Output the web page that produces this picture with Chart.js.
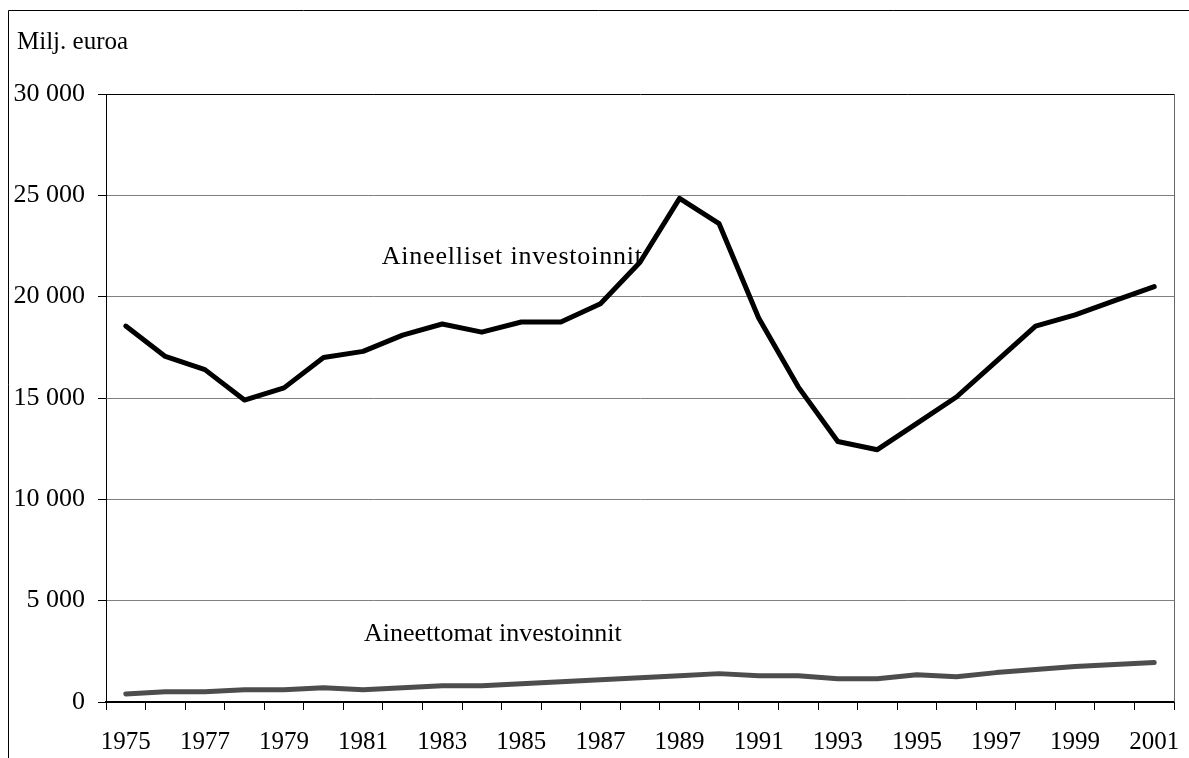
<!DOCTYPE html>
<html><head><meta charset="utf-8">
<script src="https://cdn.jsdelivr.net/npm/chart.js@4"></script>
<style>html,body{margin:0;padding:0;background:#fff;overflow:hidden}</style>
</head><body>
<canvas id="c" width="1189" height="758"></canvas>
<script>
const years = ['1975','1976','1977','1978','1979','1980','1981','1982','1983','1984','1985','1986','1987','1988','1989','1990','1991','1992','1993','1994','1995','1996','1997','1998','1999','2000','2001'];
const tangible = [18550,17050,16400,14900,15500,17000,17300,18100,18650,18250,18750,18750,19650,21700,24850,23600,18950,15550,12850,12450,13750,15050,16800,18550,19100,19800,20500];
const intangible = [400,500,500,600,600,700,600,700,800,800,900,1000,1100,1200,1300,1400,1300,1300,1150,1150,1350,1250,1450,1600,1750,1850,1950];
const yTickValues = [0,5000,10000,15000,20000,25000,30000];
const yTickLabels = ['0','5 000','10 000','15 000','20 000','25 000','30 000'];
const unitLabel = 'Milj. euroa';
const seriesLabels = ['Aineelliset investoinnit','Aineettomat investoinnit'];

const FONT = '"Liberation Serif", "Times New Roman", serif';

const decor = {
  id: 'decor',
  afterDraw(chart) {
    const {ctx, chartArea: a, scales: {x, y}} = chart;
    ctx.save();
    ctx.strokeStyle = '#000'; ctx.lineWidth = 1;
    ctx.beginPath(); ctx.moveTo(8.5, 758); ctx.lineTo(8.5, 10.5); ctx.lineTo(1189, 10.5); ctx.stroke();
    ctx.strokeStyle = '#666';
    ctx.beginPath(); ctx.moveTo(a.right + 0.5, a.top); ctx.lineTo(a.right + 0.5, a.bottom); ctx.stroke();
    ctx.fillStyle = '#000'; ctx.textBaseline = 'middle'; ctx.textAlign = 'left';
    ctx.font = '25px ' + FONT;
    ctx.fillText(unitLabel, 17, 42);
    ctx.font = '26px ' + FONT;
    ctx.letterSpacing = '0.8px';
    ctx.fillText(seriesLabels[0], x.getPixelForValue(6.47), y.getPixelForValue(21950));
    ctx.letterSpacing = '0px';
    ctx.fillText(seriesLabels[1], x.getPixelForValue(6.02), y.getPixelForValue(3350));
    ctx.restore();
  }
};

new Chart(document.getElementById('c'), {
  type: 'line',
  data: {
    labels: years,
    datasets: [
      {label: seriesLabels[0], data: tangible, borderColor: '#000', borderWidth: 5, pointRadius: 0, tension: 0, borderCapStyle: 'round', borderJoinStyle: 'round'},
      {label: seriesLabels[1], data: intangible, borderColor: '#4d4d4d', borderWidth: 5, pointRadius: 0, tension: 0, borderCapStyle: 'round', borderJoinStyle: 'round'}
    ]
  },
  options: {
    responsive: false,
    animation: false,
    layout: {padding: {top: 94, right: 15, left: 0, bottom: 0}},
    plugins: {legend: {display: false}, tooltip: {enabled: false}},
    scales: {
      x: {
        offset: true,
        afterFit(s) { s.height = 56; s.paddingLeft = 0; s.paddingRight = 0; },
        grid: {display: true, drawOnChartArea: false, drawTicks: true, tickLength: 8, color: '#000', offset: true},
        border: {display: true, color: '#000', width: 2},
        ticks: {autoSkip: false, maxRotation: 0, minRotation: 0, padding: 17, color: '#000',
          font: {family: FONT, size: 25},
          callback: (v, i) => i % 2 === 0 ? years[i] : ''}
      },
      y: {
        min: 0, max: 30000,
        afterFit(s) { s.width = 106; s.paddingTop = 0; s.paddingBottom = 0; },
        afterBuildTicks(s) { s.ticks = yTickValues.map(v => ({value: v})); },
        grid: {color: ctx => (ctx.tick && (ctx.tick.value === 30000 || ctx.tick.value === 0)) ? '#000' : '#808080', lineWidth: 1, tickLength: 8, tickColor: '#000'},
        border: {display: true, color: '#000', width: 1},
        ticks: {padding: 13, color: '#000', font: {family: FONT, size: 26},
          callback: v => yTickLabels[yTickValues.indexOf(v)]}
      }
    }
  },
  plugins: [decor]
});
</script>
</body></html>
